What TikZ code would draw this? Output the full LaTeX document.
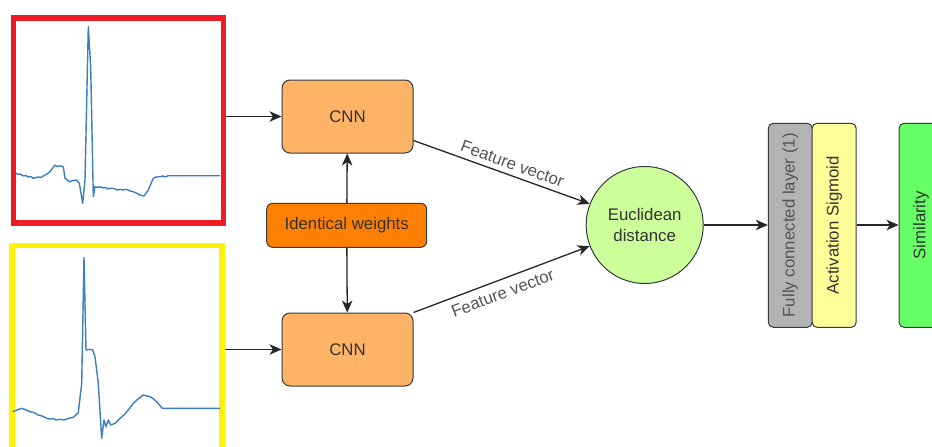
\documentclass[tikz,border=0pt]{standalone}
\usepackage{fontspec}
\setmainfont{Liberation Sans}
\usetikzlibrary{arrows.meta,calc}
\definecolor{cnnfill}{HTML}{FFB366}
\definecolor{iwfill}{HTML}{FF8000}
\definecolor{eucfill}{HTML}{CCFF99}
\definecolor{fcfill}{HTML}{B3B3B3}
\definecolor{actfill}{HTML}{FFFF99}
\definecolor{simfill}{HTML}{66FF66}
\definecolor{bordc}{HTML}{36393D}
\definecolor{txtc}{HTML}{333333}
\definecolor{lblc}{HTML}{555555}
\definecolor{ecgc}{HTML}{3A7FC0}
\definecolor{redframe}{HTML}{EE1C25}
\definecolor{yelframe}{HTML}{FFF200}
\begin{document}
\begin{tikzpicture}[x=1pt,y=-1pt,
  font=\fontsize{16.8}{20.5}\selectfont,
  arr/.style={draw=black!85, line width=1.3pt, -{Stealth[length=12pt,width=10.5pt,inset=3.5pt]}},
  cnnbox/.style={draw=bordc, line width=1pt, fill=cnnfill, rounded corners=8pt, minimum width=131pt, minimum height=73pt, text=txtc, inner sep=0pt},
  iwbox/.style={draw=bordc, line width=1pt, fill=iwfill, rounded corners=6pt, minimum width=160pt, minimum height=44pt, text=txtc, inner sep=0pt},
  eucnode/.style={draw=bordc, line width=1pt, fill=eucfill, circle, minimum size=117pt, align=center, text=txtc, inner sep=0pt},
  tallbox/.style={draw=bordc, line width=1pt, rounded corners=5pt, minimum width=204pt, minimum height=44pt, rotate=90, text=txtc, inner sep=0pt},
  frame/.style={line width=5.3pt, minimum width=210pt, minimum height=205pt, inner sep=0pt},
  ecg/.style={ecgc, line width=1.4pt, line join=round},
  fv/.style={text=lblc, sloped, inner sep=2pt}
]
\clip (0,0) rectangle (932,447);
\fill[white] (0,0) rectangle (932,447);

% input frames
\node[frame, draw=redframe] (sig1) at (118.3,120.5) {};
\node[frame, draw=yelframe] (sig2) at (117,348) {};

% ECG signals
\draw[ecg] plot coordinates {(16,173) (18,174.5) (20,174) (23.3,176) (26,175.5) (28,177) (31,176.5) (33.3,178.3) (36,177.5) (38,177) (41,177.5) (43.3,176) (47,174) (50,171.7) (55,165) (57,166.5) (60,165.7) (63.3,166.7) (65,178.3) (68,180.5) (70,181.7) (73,180.5) (76.7,180) (79.3,183.3) (82.7,203.3) (85,180) (88.3,26.7) (90.7,66.7) (93.3,196.7) (95,186.7) (98,187.5) (100,186.7) (103,188) (105,187.5) (108,189) (110,188.3) (114,188.5) (117,190) (120,189.3) (123,190) (126.7,189.3) (130,191) (133.3,191.7) (137,193.5) (140,195) (144,196) (148.3,190) (153.3,178.3) (156,177) (160,176.7) (163,176) (165,177) (168.3,175.7) (220,175.7)};
\draw[ecg] plot coordinates {(12.7,411.7) (17,410) (21.7,408.3) (25,409.5) (30,411.7) (34,412.5) (38,415) (42,416) (46.7,418.3) (50,419) (53,418.5) (56,420) (60,419.3) (64,420) (68,418.5) (73.3,417.3) (78.3,412.7) (81.7,383.3) (84,257.3) (86,350) (90,349.3) (92.7,350) (95,356.7) (98.3,383.3) (101.7,438.3) (104,420) (106,426.7) (108.3,420) (110.7,425) (115,423.3) (120,418.3) (125,414) (129,409) (133.3,403.3) (138,399) (143.3,395) (147,396) (150,396.7) (153,398.5) (156.7,401.7) (162.3,408.3) (220,408.3)};

% CNN branch
\node[cnnbox] (cnn1) at (347.5,116.5) {CNN};
\node[cnnbox] (cnn2) at (347.5,349.5) {CNN};
\node[iwbox] (iw) at (346.7,225.3) {Identical weights};
\node[eucnode] (euc) at (644.7,225) {Euclidean\\distance};

% output stack
\node[tallbox, fill=fcfill, text=lblc] (fc) at (790.3,225.3) {Fully connected layer (1)};
\node[tallbox, fill=actfill] (act) at (834.2,225.3) {Activation Sigmoid};
\node[tallbox, fill=simfill] (sim) at (921,225.3) {Similarity};

% connectors
\draw[arr] (sig1.east |- cnn1.west) -- (cnn1.west);
\draw[arr] (sig2.east |- cnn2.west) -- (cnn2.west);
\draw[arr] (iw) -- (cnn1);
\draw[arr] (iw) -- (cnn2);
\draw[arr] ($(cnn1.south east)+(0,-13)$) -- node[fv, pos=0.54, above=3pt] {Feature vector} (euc.159);
\draw[arr] (cnn2.north east) -- node[fv, pos=0.48, below=5pt] {Feature vector} (euc.201);
\draw[arr] (euc.east) -- (fc.north |- euc.east);
\draw[arr] (act.south |- euc.east) -- (sim.north |- euc.east);
\end{tikzpicture}
\end{document}
